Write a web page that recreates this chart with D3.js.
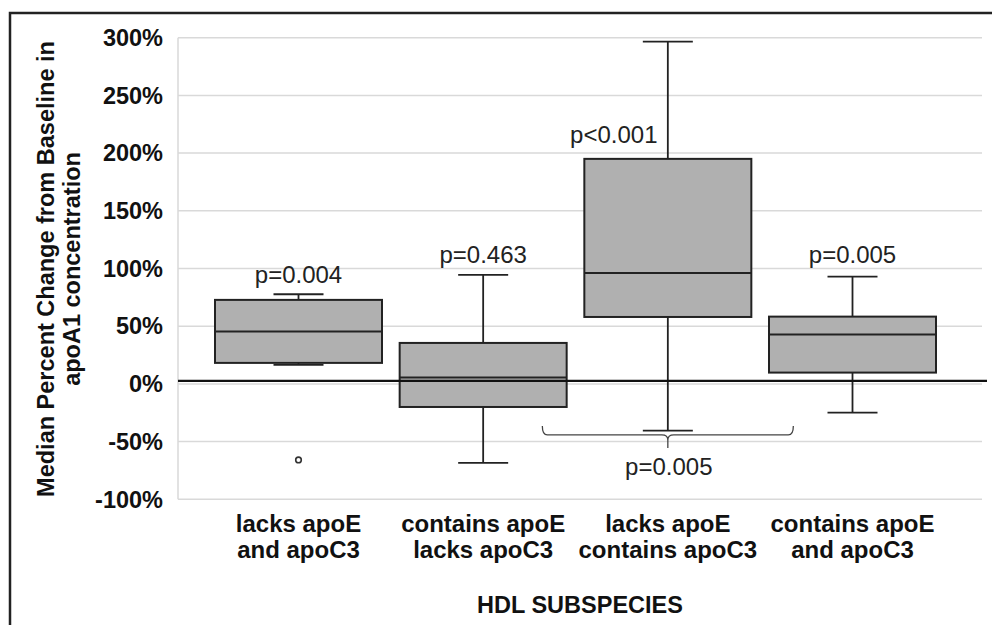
<!DOCTYPE html>
<html>
<head>
<meta charset="utf-8">
<script src="https://cdn.jsdelivr.net/npm/d3@7"></script>
<style>
  body { margin: 0; background: #fff; }
  svg { display: block; font-family: Arial, "Liberation Sans", sans-serif; }
</style>
</head>
<body>
<div id="chart"></div>
<script>
// chart size
const width = 992;
const height = 625;

// categories (two lines each) and box statistics, in percent
const categories = [
  ["lacks apoE", "and apoC3"],
  ["contains apoE", "lacks apoC3"],
  ["lacks apoE", "contains apoC3"],
  ["contains apoE", "and apoC3"]
];
const whiskerLow  = [16.5, -68.5, -40.5, -24.9];
const q1          = [18.2, -20, 58, 9.8];
const median      = [45.3, 5.5, 96, 42.7];
const q3          = [72.8, 35.5, 195, 58.3];
const whiskerHigh = [77.7, 94.5, 296.6, 93];
const outliers    = [{cat: 0, value: -65.9}];

// p values above each box
const pLabels = ["p=0.004", "p=0.463", "p<0.001", "p=0.005"];
const pLabelValue = [87.2, 104.8, 208.6, 104.8];

// comparison bracket below the third box
const bracketLabel = "p=0.005";
const bracketValue = -44.2;

const yTicks = [-100, -50, 0, 50, 100, 150, 200, 250, 300];
const zeroLine = 2.6;

const ids = categories.map((d, i) => i);

const svg = d3.select("#chart").append("svg")
    .attr("width", width)
    .attr("height", height);

// outer frame (top and left edges visible)
svg.append("path")
    .attr("d", "M10,625 V13 H992")
    .attr("fill", "none")
    .attr("stroke", "#222")
    .attr("stroke-width", 2.5);

const plotLeft = 178, plotRight = 982;

const y = d3.scaleLinear().domain([-100, 300]).range([499.3, 37.7]);
const x = d3.scalePoint().domain(ids).range([298.5, 852.5]);
const boxW = 167;
const capW = 50;

// gridlines
svg.append("g")
  .selectAll("line")
  .data(yTicks)
  .join("line")
    .attr("x1", plotLeft)
    .attr("x2", plotRight)
    .attr("y1", d => y(d))
    .attr("y2", d => y(d))
    .attr("stroke", "#d9d9d9")
    .attr("stroke-width", 1.5);

svg.append("line")
    .attr("x1", plotLeft).attr("x2", plotLeft)
    .attr("y1", y(300)).attr("y2", y(-100))
    .attr("stroke", "#d9d9d9")
    .attr("stroke-width", 1.5);

// y tick labels
svg.append("g")
    .style("font", "bold 23.5px Arial, 'Liberation Sans', sans-serif")
  .selectAll("text")
  .data(yTicks)
  .join("text")
    .attr("x", 163)
    .attr("y", d => y(d))
    .attr("dy", "0.35em")
    .attr("text-anchor", "end")
    .attr("fill", "#111")
    .text(d => d + "%");

// whiskers
const box = svg.append("g")
    .attr("stroke", "#222")
  .selectAll("g")
  .data(ids)
  .join("g");

box.append("line")
    .attr("x1", d => x(d)).attr("x2", d => x(d))
    .attr("y1", d => y(whiskerHigh[d]))
    .attr("y2", d => y(whiskerLow[d]))
    .attr("stroke-width", 1.8);

box.append("line")
    .attr("x1", d => x(d) - capW / 2).attr("x2", d => x(d) + capW / 2)
    .attr("y1", d => y(whiskerHigh[d])).attr("y2", d => y(whiskerHigh[d]))
    .attr("stroke-width", 1.8);

box.append("line")
    .attr("x1", d => x(d) - capW / 2).attr("x2", d => x(d) + capW / 2)
    .attr("y1", d => y(whiskerLow[d])).attr("y2", d => y(whiskerLow[d]))
    .attr("stroke-width", 1.8);

box.append("rect")
    .attr("x", d => x(d) - boxW / 2)
    .attr("width", boxW)
    .attr("y", d => y(q3[d]))
    .attr("height", d => y(q1[d]) - y(q3[d]))
    .attr("fill", "#b0b0b0")
    .attr("stroke-width", 2);

box.append("line")
    .attr("x1", d => x(d) - boxW / 2).attr("x2", d => x(d) + boxW / 2)
    .attr("y1", d => y(median[d])).attr("y2", d => y(median[d]))
    .attr("stroke-width", 2);

// outliers
svg.append("g")
  .selectAll("circle")
  .data(outliers)
  .join("circle")
    .attr("cx", d => x(d.cat))
    .attr("cy", d => y(d.value))
    .attr("r", 2.8)
    .attr("fill", "#fff")
    .attr("stroke", "#333")
    .attr("stroke-width", 1.6);

// zero reference line
svg.append("line")
    .attr("x1", plotLeft).attr("x2", 987)
    .attr("y1", y(zeroLine)).attr("y2", y(zeroLine))
    .attr("stroke", "#111")
    .attr("stroke-width", 2.2);

// p value labels
const pOffset = [0, 0, -54, 0];
svg.append("g")
    .style("font", "24px Arial, 'Liberation Sans', sans-serif")
  .selectAll("text")
  .data(ids)
  .join("text")
    .attr("x", d => x(d) + pOffset[d])
    .attr("y", d => y(pLabelValue[d]))
    .attr("text-anchor", "middle")
    .attr("fill", "#222")
    .text(d => pLabels[d]);

// bracket
const bx = x(2), bHalf = 125.5;
const by = y(bracketValue);
svg.append("path")
    .attr("d", `M${bx - bHalf},${by - 9} q0,9 5,9 H${bx - 6} q6,0 6,5 v8 M${bx},${by + 5} q0,-5 6,-5 H${bx + bHalf - 5} q5,0 5,-9`)
    .attr("fill", "none")
    .attr("stroke", "#444")
    .attr("stroke-width", 1.3);

svg.append("text")
    .attr("x", bx + 1)
    .attr("y", 475)
    .attr("text-anchor", "middle")
    .style("font", "24px Arial, 'Liberation Sans', sans-serif")
    .attr("fill", "#222")
    .text(bracketLabel);

// category labels
const catText = svg.append("g")
    .style("font", "bold 24px Arial, 'Liberation Sans', sans-serif")
    .attr("fill", "#111")
  .selectAll("text")
  .data(ids)
  .join("text")
    .attr("text-anchor", "middle");

catText.append("tspan")
    .attr("x", d => x(d))
    .attr("y", 532)
    .text(d => categories[d][0]);

catText.append("tspan")
    .attr("x", d => x(d))
    .attr("y", 558)
    .text(d => categories[d][1]);

// axis titles
svg.append("text")
    .attr("x", (plotLeft + plotRight) / 2)
    .attr("y", 613)
    .attr("text-anchor", "middle")
    .style("font", "bold 23.5px Arial, 'Liberation Sans', sans-serif")
    .attr("fill", "#111")
    .text("HDL SUBSPECIES");

const yTitle = svg.append("text")
    .attr("transform", "translate(0,269) rotate(-90)")
    .attr("text-anchor", "middle")
    .style("font", "bold 23.5px Arial, 'Liberation Sans', sans-serif")
    .attr("fill", "#111");

yTitle.append("tspan").attr("x", 0).attr("y", 54).text("Median Percent Change from Baseline in");
yTitle.append("tspan").attr("x", 0).attr("y", 80).text("apoA1 concentration");
</script>
</body>
</html>
